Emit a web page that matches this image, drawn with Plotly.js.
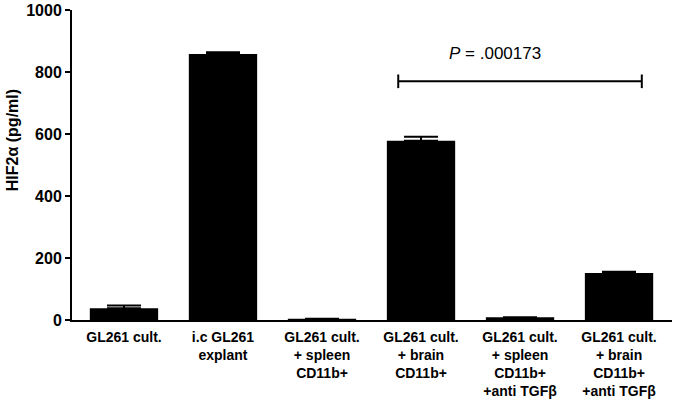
<!DOCTYPE html>
<html><head><meta charset="utf-8">
<script src="https://cdn.plot.ly/plotly-3.0.1.min.js"></script>
<style>html,body{margin:0;padding:0;background:#fff}#chart{width:676px;height:412px}</style>
</head><body><div id="chart"></div>
<script>
const categories = [
  "GL261 cult.",
  "i.c GL261<br>explant",
  "GL261 cult.<br>+ spleen<br>CD11b+",
  "GL261 cult.<br>+ brain<br>CD11b+",
  "GL261 cult.<br>+ spleen<br>CD11b+<br>+anti TGFβ",
  "GL261 cult.<br>+ brain<br>CD11b+<br>+anti TGFβ"
];
const values = [38, 858, 4, 578, 9, 152];
const errors = [9, 6, 0, 13, 0, 4];
const yTicks = [0, 200, 400, 600, 800, 1000];
const pText = "<i>P</i> = .000173";
const bracketFrom = 2.77, bracketTo = 5.23, bracketY = 770;

const font = "'Liberation Sans', Arial, sans-serif";
const trace = {
  type: "bar", x: categories, y: values,
  marker: {color: "#000", line: {width: 0}},
  width: 0.69,
  error_y: {type: "data", symmetric: false, array: errors, arrayminus: errors.map(() => 0),
            color: "#000", thickness: 2, width: 17}
};
const layout = {
  width: 676, height: 412,
  margin: {l: 72, r: 4, t: 10, b: 92},
  paper_bgcolor: "#fff", plot_bgcolor: "#fff",
  showlegend: false,
  font: {family: font, color: "#000"},
  xaxis: {
    type: "category", range: [-0.525, 5.535],
    showline: true, linecolor: "#000", linewidth: 2,
    ticks: "", showgrid: false, zeroline: false,
    tickfont: {family: font, size: 14, color: "#000", weight: "bold"},
    ticklabelstandoff: 3
  },
  yaxis: {
    range: [0, 1000], tickvals: yTicks, ticktext: yTicks.map(String),
    showline: true, linecolor: "#000", linewidth: 2,
    ticks: "outside", ticklen: 5, tickwidth: 2, tickcolor: "#000",
    showgrid: false, zeroline: false,
    tickfont: {family: font, size: 16, color: "#000", weight: "bold"}
  },
  shapes: [
    {type: "line", xref: "x", yref: "y", x0: bracketFrom, x1: bracketTo, y0: bracketY, y1: bracketY, line: {color: "#000", width: 2}},
    {type: "line", xref: "x", yref: "y", x0: bracketFrom, x1: bracketFrom, y0: bracketY - 22, y1: bracketY + 22, line: {color: "#000", width: 2}},
    {type: "line", xref: "x", yref: "y", x0: bracketTo, x1: bracketTo, y0: bracketY - 22, y1: bracketY + 22, line: {color: "#000", width: 2}}
  ],
  annotations: [
    {text: pText, xref: "x", yref: "y", x: 3.75, y: 860,
     showarrow: false, font: {family: font, size: 17, color: "#000"}},
    {text: "HIF2α (pg/ml)", xref: "paper", yref: "paper", x: -0.1, xanchor: "center",
     y: 0.58, yanchor: "middle", textangle: -90, showarrow: false,
     font: {family: font, size: 16, color: "#000", weight: "bold"}}
  ]
};
Plotly.newPlot("chart", [trace], layout, {displayModeBar: false, staticPlot: true});
</script></body></html>
